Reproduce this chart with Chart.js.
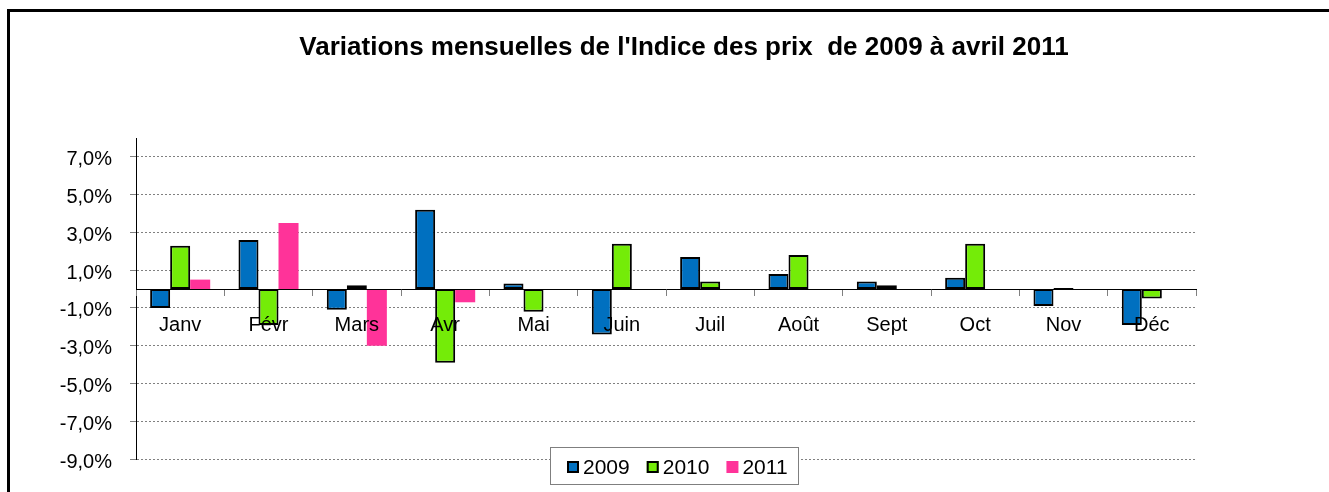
<!DOCTYPE html>
<html>
<head>
<meta charset="utf-8">
<title>Variations mensuelles de l'Indice des prix</title>
<script src="https://cdn.jsdelivr.net/npm/chart.js@4.4.1/dist/chart.umd.min.js"></script>
<style>
  html, body { margin:0; padding:0; background:#fff; overflow:hidden; }
  #frame { position:absolute; left:7px; top:9px; width:1400px; height:600px; border:3px solid #000; }
  #c { position:absolute; left:0; top:0; }
</style>
</head>
<body>
<div id="frame"></div>
<canvas id="c" width="1329" height="492"></canvas>
<script>
const TITLE = "Variations mensuelles de l'Indice des prix  de 2009 à avril 2011";
const MONTHS = ['Janv','Févr','Mars','Avr','Mai','Juin','Juil','Août','Sept','Oct','Nov','Déc'];
const V2009 = [-1.0, 2.6, -1.1, 4.2, 0.3, -2.4, 1.7, 0.8, 0.4, 0.6, -0.9, -1.9];
const V2010 = [2.3, -1.9, 0.2, -3.9, -1.2, 2.4, 0.4, 1.8, 0.2, 2.4, 0.0, -0.5];
const V2011 = [0.5, 3.5, -3.0, -0.7, null, null, null, null, null, null, null, null];
const Y_TICKS = [-9, -7, -5, -3, -1, 1, 3, 5, 7];

const FONT = '"Liberation Sans", Arial, sans-serif';
Chart.defaults.font.family = FONT;
Chart.defaults.color = '#000';

function pct(v){ return v.toFixed(1).replace('.', ',') + '%'; }

// title sits centred on the whole chart object, not on the plot
const chartTitle = {
  id: 'chartTitle',
  afterDraw(chart){
    const ctx = chart.ctx;
    ctx.save();
    ctx.font = 'bold 26px ' + FONT;
    ctx.fillStyle = '#000';
    ctx.textAlign = 'center';
    ctx.textBaseline = 'middle';
    ctx.fillText(TITLE, 684, 48);
    ctx.restore();
  }
};

// legend box drawn over the bottom of the plot, like the Excel one
const boxLegend = {
  id: 'boxLegend',
  afterDraw(chart){
    const ctx = chart.ctx;
    ctx.save();
    ctx.fillStyle = '#fff';
    ctx.strokeStyle = '#7f7f7f';
    ctx.lineWidth = 1;
    ctx.fillRect(550.5, 447.5, 248, 37);
    ctx.strokeRect(550.5, 447.5, 248, 37);
    ctx.font = '21px ' + FONT;
    ctx.textBaseline = 'middle';
    let x = 567;
    chart.data.datasets.forEach(ds => {
      ctx.fillStyle = ds.backgroundColor;
      ctx.fillRect(x, 461, 12, 12);
      if (ds.borderWidth){
        ctx.strokeStyle = '#000'; ctx.lineWidth = 2;
        ctx.strokeRect(x + 1, 462, 10, 10);
      }
      ctx.fillStyle = '#000';
      ctx.fillText(ds.label, x + 16, 468);
      x += 16 + ctx.measureText(ds.label).width + 17;
    });
    ctx.restore();
  }
};

new Chart(document.getElementById('c'), {
  type: 'bar',
  data: {
    labels: MONTHS,
    datasets: [
      { label:'2009', data:V2009, backgroundColor:'#0070C0', borderColor:'#000', borderWidth:2, borderSkipped:false },
      { label:'2010', data:V2010, backgroundColor:'#74EC08', borderColor:'#000', borderWidth:2, borderSkipped:false, minBarLength:2 },
      { label:'2011', data:V2011, backgroundColor:'#FF3399', borderWidth:0 }
    ]
  },
  options: {
    responsive: false,
    animation: false,
    devicePixelRatio: 1,
    layout: { padding: { left:10, right:133, top:138, bottom:33 } },
    datasets: { bar: { categoryPercentage: 0.68, barPercentage: 1 } },
    plugins: {
      legend: { display:false },
      tooltip: { enabled:false },
      title: { display:false }
    },
    scales: {
      x: {
        position: { y: 0 },
        offset: true,
        grid: { display:true, drawOnChartArea:false, drawTicks:true, tickLength:6, color:'#808080', tickColor:'#808080', offset:true, z:1 },
        border: { display:true, color:'#000', width:1, z:1 },
        ticks: { font:{ size:20 }, color:'#000', padding:18, maxRotation:0, autoSkip:false, z:1 }
      },
      y: {
        min: -9, max: 8,
        afterBuildTicks: s => { s.ticks = Y_TICKS.map(v => ({ value:v })); },
        afterFit: s => { s.width = 126; },
        grid: { color:'#808080', tickColor:'#808080', tickLength:6, tickBorderDash:[] },
        border: { display:true, color:'#000', width:1, dash:[2,2] },
        ticks: { font:{ size:20 }, color:'#000', padding:18, labelOffset:3, callback: v => pct(v) }
      }
    }
  },
  plugins: [chartTitle, boxLegend]
});
</script>
</body>
</html>
